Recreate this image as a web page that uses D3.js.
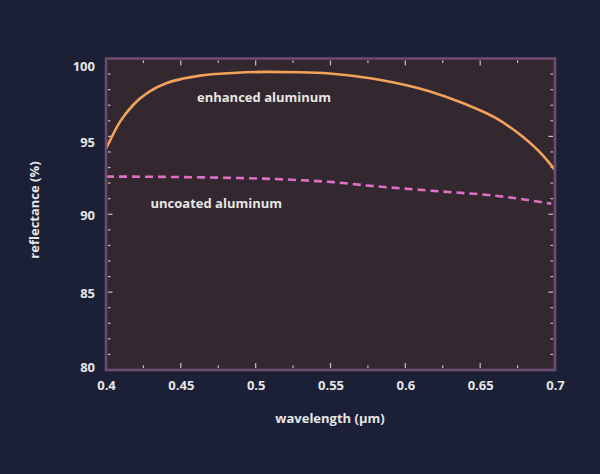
<!DOCTYPE html>
<html><head><meta charset="utf-8">
<script src="https://cdn.jsdelivr.net/npm/d3@7"></script>
<style>
html,body{margin:0;padding:0;background:#1b2037;}
svg{display:block;}
text{font-family:"Open Sans",sans-serif;font-weight:700;fill:#e6e6e6;}
</style></head><body>
<svg id="c" width="600" height="474"></svg>
<script>
const xTicks = [0.4, 0.45, 0.5, 0.55, 0.6, 0.65, 0.7];
const xTickLabels = ["0.4", "0.45", "0.5", "0.55", "0.6", "0.65", "0.7"];
const yTicks = [80, 85, 90, 95, 100];
const yTickLabels = ["80", "85", "90", "95", "100"];

const enhancedWl = [0.400, 0.4094, 0.4183, 0.4295, 0.4406, 0.4517, 0.4628, 0.485, 0.5072, 0.5294, 0.5494, 0.5717, 0.5939, 0.616, 0.6383, 0.6606, 0.6783, 0.6917, 0.700];
const enhancedR  = [94.2, 95.95, 97.03, 97.9, 98.43, 98.71, 98.9, 99.07, 99.14, 99.12, 99.04, 98.8, 98.43, 97.9, 97.14, 96.17, 94.99, 93.8, 92.85];

const uncoatedWl = [0.400, 0.4628, 0.5296, 0.5519, 0.574, 0.6186, 0.663, 0.6975];
const uncoatedR  = [92.42, 92.37, 92.19, 92.06, 91.85, 91.5, 91.16, 90.68];

const seriesLabels = ["enhanced aluminum", "uncoated aluminum"];

const svg = d3.select("#c");
const L = 106, R = 555, T = 58.5, B = 370;
const x = d3.scaleLinear().domain([0.4, 0.7]).range([L, R]);
const y = d3.scaleLinear().domain([80, 100]).range([B, T]);

// plot background
svg.append("rect").attr("x", L).attr("y", T).attr("width", R - L).attr("height", B - T)
  .attr("fill", "#33282f");

// ticks inside
const tickCol = "#c9c0c8";
const minorX = d3.range(0, 13).map(i => 0.4 + i * 0.025);
const minorY = d3.range(80, 101, 1);
const tg = svg.append("g").attr("stroke", tickCol).attr("stroke-width", 1.2);
minorX.forEach((v, i) => {
  const len = i % 2 === 0 ? 5 : 2.5;
  tg.append("line").attr("x1", x(v)).attr("x2", x(v)).attr("y1", B - 2).attr("y2", B - 2 - len);
  tg.append("line").attr("x1", x(v)).attr("x2", x(v)).attr("y1", T + 2).attr("y2", T + 2 + len);
});
minorY.forEach(v => {
  const len = v % 5 === 0 ? 4.5 : 2.5;
  tg.append("line").attr("y1", y(v)).attr("y2", y(v)).attr("x1", L + 2).attr("x2", L + 2 + len);
  tg.append("line").attr("y1", y(v)).attr("y2", y(v)).attr("x1", R - 2).attr("x2", R - 2 - len);
});

// lines
const line = d3.line().x(d => x(d[0])).y(d => y(d[1])).curve(d3.curveMonotoneX);
svg.append("path").datum(uncoatedWl.map((w, i) => [w, uncoatedR[i]]))
  .attr("d", line).attr("fill", "none").attr("stroke", "#e070c6")
  .attr("stroke-width", 2.6).attr("stroke-dasharray", "8,5");
svg.append("path").datum(enhancedWl.map((w, i) => [w, enhancedR[i]]))
  .attr("d", line).attr("fill", "none").attr("stroke", "#f3a25a")
  .attr("stroke-width", 2.6);

// border
svg.append("rect").attr("x", L).attr("y", T).attr("width", R - L).attr("height", B - T)
  .attr("fill", "none").attr("stroke", "#6c4b6e").attr("stroke-width", 2.6);

// axes (labels only)
const xAxis = d3.axisBottom(x).tickValues(xTicks).tickFormat((d, i) => xTickLabels[i]).tickSize(0).tickPadding(0);
const gx = svg.append("g").attr("transform", `translate(0,${B})`).call(xAxis);
gx.select(".domain").remove();
gx.selectAll("text").attr("font-size", 13).attr("dy", null).attr("y", 20)
  .style("font-family", '"Open Sans",sans-serif').style("font-weight", 700).attr("fill", "#e6e6e6");

const yAxis = d3.axisLeft(y).tickValues(yTicks).tickFormat((d, i) => yTickLabels[i]).tickSize(0).tickPadding(0);
const gy = svg.append("g").attr("transform", `translate(95,0)`).call(yAxis);
gy.select(".domain").remove();
gy.selectAll("text").attr("font-size", 13).attr("x", 0)
  .attr("dy", d => d === 100 ? "0.95em" : d === 95 ? "0.75em" : d === 80 ? "0.1em" : "0.4em")
  .style("font-family", '"Open Sans",sans-serif').style("font-weight", 700).attr("fill", "#e6e6e6");

// axis titles
svg.append("text").attr("x", 330).attr("y", 423).attr("text-anchor", "middle")
  .attr("font-size", 13).text("wavelength (µm)");
svg.append("text").attr("transform", "translate(39,210) rotate(-90)").attr("text-anchor", "middle")
  .attr("font-size", 13).text("reflectance (%)");

// series labels
svg.append("text").attr("x", 197).attr("y", 102).attr("font-size", 13).text(seriesLabels[0]);
svg.append("text").attr("x", 150.5).attr("y", 208).attr("font-size", 13).text(seriesLabels[1]);
</script>
</body></html>
